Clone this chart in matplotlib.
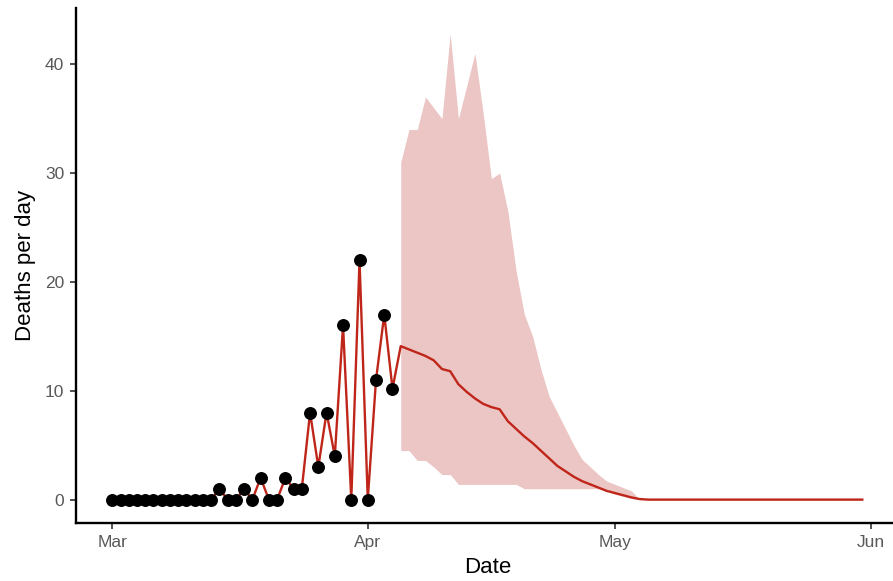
import numpy as np
import pandas as pd
import matplotlib
matplotlib.use('Agg')
import matplotlib.pyplot as plt
import matplotlib.dates as mdates

plt.rcParams['font.family'] = ['Liberation Sans', 'DejaVu Sans']

# observed deaths, 1 Mar - 4 Apr 2020
obs_dates = pd.date_range('2020-03-01', '2020-04-04', freq='D')
observed = [0, 0, 0, 0, 0, 0, 0, 0, 0, 0, 0, 0, 0,
            1, 0, 0, 1, 0, 2, 0, 0, 2, 1, 1,
            8, 3, 8, 4, 16, 0, 22, 0, 11, 17, 10.2]

# model projection, 5 Apr - 31 May
pred_dates = pd.date_range('2020-04-05', '2020-05-31', freq='D')
predicted = [14.1, 13.8, 13.5, 13.2, 12.8, 12.0, 11.8, 10.6, 9.9, 9.3,
             8.8, 8.5, 8.3, 7.2, 6.5, 5.8, 5.2, 4.5, 3.8, 3.1,
             2.6, 2.1, 1.7, 1.4, 1.1, 0.8, 0.6, 0.4, 0.2, 0.05] + [0] * 27

# uncertainty band, 5 Apr - 4 May
band_dates = pd.date_range('2020-04-05', '2020-05-04', freq='D')
upper = [31, 34, 34, 37, 36, 35, 42.8, 35, 38, 41,
         35.5, 29.5, 30, 26.5, 21, 17, 15, 12, 9.5, 8,
         6.5, 5, 3.7, 3, 2.3, 1.7, 1.4, 1.1, 0.8, 0]
lower = [4.5, 4.5, 3.6, 3.6, 3.0, 2.3, 2.3, 1.4, 1.4, 1.4,
         1.4, 1.4, 1.4, 1.4, 1.4, 1.0, 1.0, 1.0, 1.0, 1.0,
         1.0, 1.0, 1.0, 1.0, 1.0, 0.8, 0.5, 0.3, 0.1, 0]

fig = plt.figure(figsize=(8.93, 5.81), dpi=100)
ax = fig.add_axes([0.0851, 0.0998, 0.9225, 0.887])

ax.fill_between(band_dates, lower, upper, color='#ecc5c5', linewidth=0)
all_dates = list(obs_dates) + list(pred_dates)
all_vals = list(observed) + list(predicted)
ax.plot(all_dates, all_vals, color='#bf2619', linewidth=1.7)
ax.plot(obs_dates, observed, 'o', color='black', markersize=8.3)

ax.set_xlim(pd.Timestamp('2020-03-01') - pd.Timedelta(days=4.4),
            pd.Timestamp('2020-05-31') + pd.Timedelta(days=4.55))
ax.set_ylim(-2.15, 45.2)
ax.set_yticks([0, 10, 20, 30, 40])
ax.xaxis.set_major_locator(mdates.MonthLocator())
ax.xaxis.set_major_formatter(mdates.DateFormatter('%b'))

for s in ['top', 'right']:
    ax.spines[s].set_visible(False)
for s in ['left', 'bottom']:
    ax.spines[s].set_linewidth(1.7)
    ax.spines[s].set_color('black')
ax.tick_params(axis='both', length=4.5, width=1.2, color='#333333',
               labelcolor='#595959', labelsize=12.5, pad=4)

ax.set_xlabel('Date', fontsize=16, labelpad=5)
ax.set_ylabel('Deaths per day', fontsize=16, labelpad=6)

plt.savefig('out.png', dpi=100)
